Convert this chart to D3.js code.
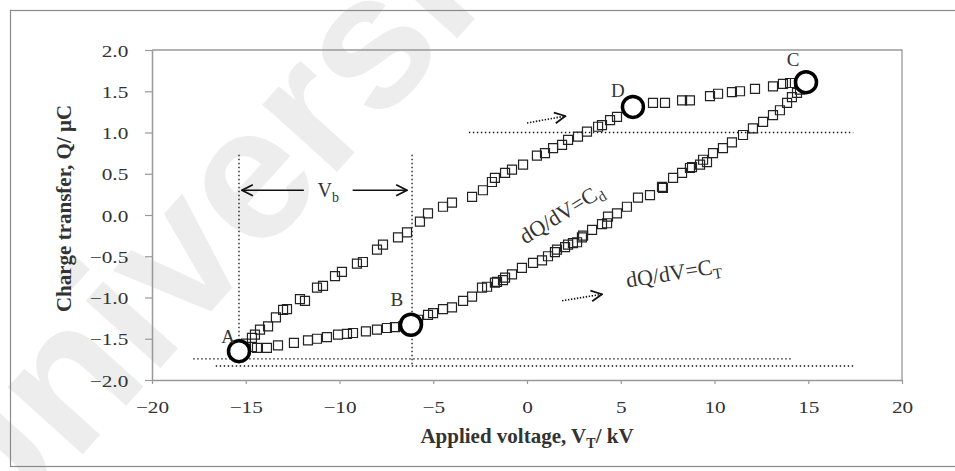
<!DOCTYPE html>
<html><head><meta charset="utf-8">
<script src="https://cdn.jsdelivr.net/npm/d3@7"></script>
<style>
html,body{margin:0;padding:0;background:#fff;}
svg{display:block;}
</style></head><body>
<svg id="chart" width="955" height="471"></svg>
<script>
// Q–V Lissajous loop, one discharge cycle: applied voltage (kV) and transferred charge (µC)
const voltage = [
  -15.04,-14.67,-14.40,-13.87,-13.28,-12.43,-11.68,-11.20,-10.67,-10.08,-9.60,-9.28,-8.59,-8.00,-7.47,-7.04,-6.61,
  -5.81,-5.28,-5.01,-4.48,-4.00,-3.41,-2.93,-2.40,-2.13,-1.71,-1.60,-1.28,-1.17,-0.80,-0.27,0.32,0.80,1.12,1.49,1.60,
  2.03,2.19,2.45,2.67,2.93,2.99,3.47,4.00,4.27,4.32,4.80,5.33,5.92,6.56,7.20,7.25,7.79,8.27,8.69,8.80,9.23,9.39,9.60,
  9.92,10.45,10.93,11.52,12.05,12.59,13.12,13.49,13.87,14.13,14.40,14.56,14.72,
  14.29,14.03,13.65,13.12,12.16,11.36,10.93,10.19,9.76,8.69,8.27,7.36,6.72,
  4.80,4.43,4.00,3.79,3.20,2.72,2.19,1.87,1.39,0.96,0.53,-0.21,-0.80,-1.17,-1.71,-1.87,-2.35,-2.93,-4.00,-4.48,
  -5.28,-5.71,-6.40,-6.88,-7.68,-8.00,-8.75,-9.07,-9.87,-10.24,-10.88,-11.20,-11.84,-12.11,-12.80,-13.01,-13.39,
  -13.81,-14.24,-14.51,-14.67,-14.99
];
const charge = [
  -1.62,-1.60,-1.61,-1.61,-1.58,-1.55,-1.52,-1.50,-1.48,-1.45,-1.44,-1.43,-1.41,-1.39,-1.37,-1.36,-1.35,
  -1.27,-1.21,-1.19,-1.14,-1.12,-1.04,-0.99,-0.88,-0.87,-0.82,-0.81,-0.79,-0.76,-0.72,-0.64,-0.58,-0.55,-0.50,-0.45,-0.42,
  -0.39,-0.36,-0.34,-0.33,-0.27,-0.25,-0.18,-0.11,-0.10,-0.02,0.02,0.10,0.21,0.24,0.34,0.33,0.45,0.51,0.57,0.58,0.61,0.67,0.64,
  0.75,0.81,0.88,0.97,1.05,1.13,1.21,1.27,1.36,1.43,1.48,1.52,1.56,
  1.60,1.60,1.59,1.56,1.53,1.50,1.49,1.47,1.44,1.39,1.39,1.36,1.36,
  1.19,1.15,1.09,1.07,1.01,0.95,0.91,0.85,0.81,0.75,0.72,0.61,0.55,0.51,0.45,0.40,0.30,0.22,0.15,0.10,
  0.02,-0.08,-0.21,-0.27,-0.36,-0.42,-0.57,-0.59,-0.69,-0.74,-0.86,-0.88,-1.04,-1.02,-1.14,-1.15,-1.24,
  -1.35,-1.39,-1.45,-1.49,-1.56
];

// Corners of the parallelogram
const cornerNames = ["A", "B", "C", "D"];
const cornerVoltage = [-15.36, -6.19, 14.88, 5.65];
const cornerCharge = [-1.65, -1.33, 1.61, 1.31];

const xTicks = [-20, -15, -10, -5, 0, 5, 10, 15, 20];
const yTicks = [-2.0, -1.5, -1.0, -0.5, 0.0, 0.5, 1.0, 1.5, 2.0];

const svg = d3.select("#chart");
const serif = "'Liberation Serif', 'Times New Roman', serif";

const x = d3.scaleLinear().domain([-20, 20]).range([152, 902]);
const y = d3.scaleLinear().domain([-2, 2]).range([380, 50]);

// faint repository watermark running across the page
svg.append("text")
  .attr("transform", "translate(-18,566) rotate(-48)")
  .attr("font-family", "'Liberation Sans', Arial, sans-serif")
  .attr("font-size", 190).attr("font-weight", "bold")
  .attr("fill", "#ededed")
  .text("Universiti");

// outer chart frame
svg.append("rect")
  .attr("x", 10.5).attr("y", 10.5).attr("width", 960).attr("height", 456)
  .attr("fill", "none").attr("stroke", "#8a8a8a").attr("stroke-width", 1.2);

// plot-area border (top and right)
svg.append("path")
  .attr("d", `M${x(-20)},${y(2)}H${x(20)}V${y(-2)}`)
  .attr("fill", "none").attr("stroke", "#999").attr("stroke-width", 1.3);

// axes
const xAxis = svg.append("g")
  .attr("transform", `translate(0,${y(-2)})`)
  .call(d3.axisBottom(x).tickValues(xTicks).tickSize(4).tickSizeOuter(0).tickFormat(d3.format("d")));
const yAxis = svg.append("g")
  .attr("transform", `translate(${x(-20)},0)`)
  .call(d3.axisLeft(y).tickValues(yTicks).tickSize(7).tickSizeOuter(0).tickFormat(d3.format(".1f")));

[xAxis, yAxis].forEach(g => {
  g.select(".domain").attr("stroke", "#999").attr("stroke-width", 1.5);
  g.selectAll(".tick line").attr("stroke", "#999").attr("stroke-width", 1.2);
  g.selectAll(".tick text")
    .attr("font-family", serif).attr("font-size", 17).attr("fill", "#333");
});
xAxis.selectAll(".tick text").attr("y", 21).attr("dy", "0.71em")
  .attr("transform", "scale(1.25,1)");
yAxis.selectAll(".tick text").attr("x", -19).attr("dy", "0.36em")
  .attr("transform", "scale(1.25,1)");

// axis titles
const xt = svg.append("text")
  .attr("x", 527).attr("y", 443).attr("text-anchor", "middle")
  .attr("font-family", serif).attr("font-size", 21).attr("font-weight", "bold").attr("fill", "#333");
xt.append("tspan").text("Applied voltage,  V");
xt.append("tspan").attr("dy", 5).attr("font-size", 14).text("T");
xt.append("tspan").attr("dy", -5).text("/ kV");

svg.append("text")
  .attr("transform", `translate(71,${y(0.08)}) rotate(-90)`)
  .attr("text-anchor", "middle")
  .attr("font-family", serif).attr("font-size", 21).attr("font-weight", "bold").attr("fill", "#333")
  .text("Charge transfer, Q/ µC");

// dotted guide lines
const guides = [
  [[-15.36, 0.73], [-15.36, -1.62]],
  [[-6.13, 0.73], [-6.13, -1.83]],
  [[-3.1, 1.0], [17.4, 1.0]],
  [[-17.8, -1.745], [14.2, -1.745]],
  [[-16.6, -1.83], [17.4, -1.83]]
];
const line = d3.line().x(d => x(d[0])).y(d => y(d[1]));
svg.append("g").selectAll("path").data(guides).join("path")
  .attr("d", line)
  .attr("fill", "none").attr("stroke", "#111").attr("stroke-width", 1.3)
  .attr("stroke-dasharray", "1.4,2.6");

// arrow head
svg.append("defs").append("marker")
  .attr("id", "chev").attr("viewBox", "0 0 12 12")
  .attr("refX", 11).attr("refY", 6)
  .attr("markerWidth", 13).attr("markerHeight", 13)
  .attr("markerUnits", "userSpaceOnUse").attr("orient", "auto")
  .append("path").attr("d", "M1,1L11,6L1,11")
  .attr("fill", "none").attr("stroke", "#111").attr("stroke-width", 1.6);

// V_b span arrows
const solidArrows = [
  [[-11.9, 0.30], [-15.2, 0.30]],
  [[-9.3, 0.30], [-6.4, 0.30]]
];
svg.append("g").selectAll("path").data(solidArrows).join("path")
  .attr("d", line).attr("stroke", "#111").attr("stroke-width", 1.6)
  .attr("fill", "none").attr("marker-end", "url(#chev)");

const vb = svg.append("text")
  .attr("x", x(-10.6)).attr("y", y(0.30) + 7).attr("text-anchor", "middle")
  .attr("font-family", serif).attr("font-size", 20).attr("fill", "#333");
vb.append("tspan").text("V");
vb.append("tspan").attr("dy", 5).attr("font-size", 14).text("b");

// direction-of-travel arrows
const dottedArrows = [
  [[0.0, 1.115], [2.05, 1.20]],
  [[1.87, -1.04], [4.0, -0.96]]
];
svg.append("g").selectAll("path").data(dottedArrows).join("path")
  .attr("d", line).attr("stroke", "#111").attr("stroke-width", 1.6)
  .attr("stroke-dasharray", "1.4,1.6")
  .attr("fill", "none").attr("marker-end", "url(#chev)");

// slope labels
const cd = svg.append("text")
  .attr("transform", `translate(${x(-0.1)},${y(-0.36)}) rotate(-32)`)
  .attr("font-family", serif).attr("font-size", 22).attr("fill", "#333");
cd.append("tspan").text("dQ/dV=C");
cd.append("tspan").attr("dy", 5).attr("font-size", 15).text("d");

const ct = svg.append("text")
  .attr("transform", `translate(${x(5.35)},${y(-0.88)}) rotate(-9)`)
  .attr("font-family", serif).attr("font-size", 22).attr("fill", "#333");
ct.append("tspan").text("dQ/dV=C");
ct.append("tspan").attr("dy", 5).attr("font-size", 15).text("T");

// loop data points
const pts = d3.zip(voltage, charge);
svg.append("g").selectAll("path").data(pts).join("path")
  .attr("transform", d => `translate(${x(d[0])},${y(d[1])})`)
  .attr("d", d3.symbol(d3.symbolSquare).size(81))
  .attr("fill", "none").attr("stroke", "#222").attr("stroke-width", 1.2);

// corner circles and letters
const corners = cornerNames.map((n, i) => ({ n, v: cornerVoltage[i], q: cornerCharge[i] }));
svg.append("g").selectAll("circle").data(corners).join("circle")
  .attr("cx", d => x(d.v)).attr("cy", d => y(d.q)).attr("r", 10.5)
  .attr("fill", "#fff").attr("stroke", "#000").attr("stroke-width", 3.5);

const labelOffset = { A: [-11, -8], B: [-14, -19], C: [-13, -16], D: [-15, -10] };
svg.append("g").selectAll("text").data(corners).join("text")
  .attr("x", d => x(d.v) + labelOffset[d.n][0])
  .attr("y", d => y(d.q) + labelOffset[d.n][1])
  .attr("text-anchor", "middle")
  .attr("font-family", serif).attr("font-size", 19).attr("fill", "#333")
  .text(d => d.n);
</script>
</body></html>
